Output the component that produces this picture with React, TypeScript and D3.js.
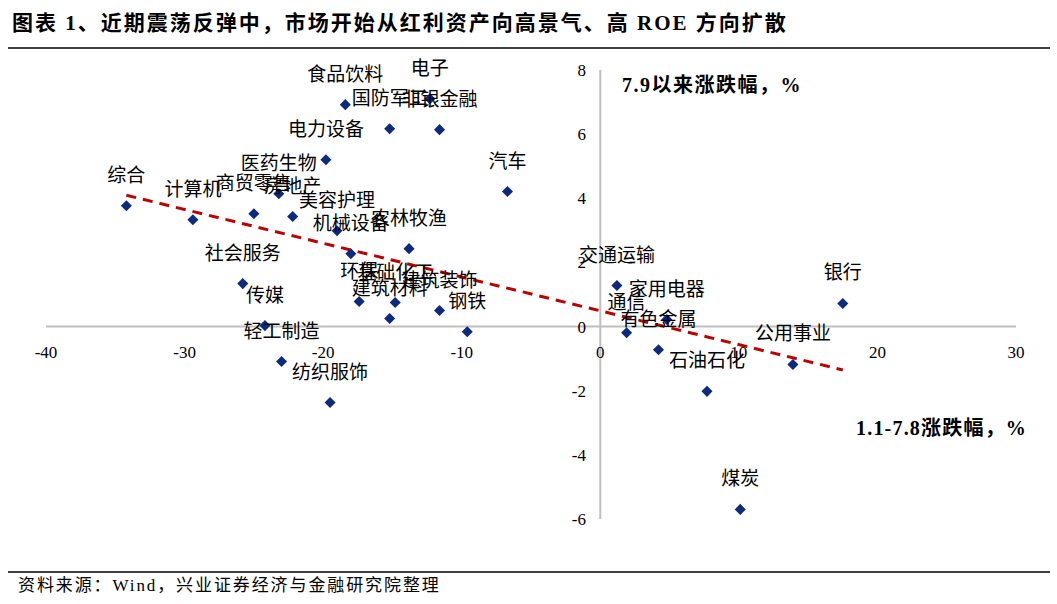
import React, { useEffect, useRef } from "react";
import * as d3 from "d3";

const industries = [
  "综合", "计算机", "商贸零售", "房地产", "医药生物", "美容护理", "机械设备", "农林牧渔",
  "电力设备", "食品饮料", "国防军工", "电子", "非银金融", "汽车", "社会服务", "传媒",
  "轻工制造", "纺织服饰", "环保", "基础化工", "建筑材料", "建筑装饰", "钢铁", "交通运输",
  "家用电器", "通信", "有色金属", "石油石化", "公用事业", "银行", "煤炭",
];
// 1.1-7.8 涨跌幅 (%)
const chgBefore = [
  -34.2, -29.4, -25.0, -22.2, -23.2, -19.0, -18.0, -13.8,
  -19.8, -18.4, -15.2, -12.3, -11.6, -6.7, -25.8, -24.2,
  -23.0, -19.5, -17.4, -14.8, -15.2, -11.6, -9.6, 1.2,
  4.8, 1.9, 4.2, 7.7, 13.9, 17.5, 10.1,
];
// 7.9 以来涨跌幅 (%)
const chgSince = [
  3.77, 3.33, 3.52, 3.43, 4.14, 2.99, 2.27, 2.43,
  5.2, 6.92, 6.17, 7.1, 6.14, 4.21, 1.34, 0.03,
  -1.09, -2.37, 0.78, 0.75, 0.25, 0.5, -0.16, 1.28,
  0.22, -0.19, -0.72, -2.02, -1.18, 0.72, -5.7,
];
const xTicks = [-40, -30, -20, -10, 0, 10, 20, 30];
const yTicks = [-6, -4, -2, 0, 2, 4, 6, 8];

const W = 1057;
const H = 604;
const serif = "'Liberation Serif', 'Noto Sans CJK SC', serif";

const App: React.FC = () => {
  const svgRef = useRef<SVGSVGElement>(null);

  useEffect(() => {
    if (!svgRef.current) return;
    const svg = d3.select(svgRef.current);
    svg.selectAll("*").remove();

    const x = d3.scaleLinear().domain([-40, 30]).range([46, 1016]);
    const y = d3.scaleLinear().domain([-6, 8]).range([519, 70]);

    // title and frame lines
    svg
      .append("text")
      .attr("x", 12)
      .attr("y", 30)
      .attr("font-family", serif)
      .attr("font-weight", "bold")
      .attr("font-size", 21)
      .attr("letter-spacing", 2)
      .text("图表 1、近期震荡反弹中，市场开始从红利资产向高景气、高 ROE 方向扩散");
    svg.append("line").attr("x1", 8).attr("x2", 1050).attr("y1", 48).attr("y2", 48)
      .attr("stroke", "#000").attr("stroke-width", 1.5);
    svg.append("line").attr("x1", 8).attr("x2", 1050).attr("y1", 572).attr("y2", 572)
      .attr("stroke", "#000").attr("stroke-width", 1.5);
    svg
      .append("text")
      .attr("x", 18)
      .attr("y", 591)
      .attr("font-family", serif)
      .attr("font-size", 17)
      .attr("letter-spacing", 1.9)
      .text("资料来源：Wind，兴业证券经济与金融研究院整理");

    // axes through zero
    svg.append("line").attr("x1", x(-40)).attr("x2", x(30)).attr("y1", y(0)).attr("y2", y(0))
      .attr("stroke", "#bfbfbf").attr("stroke-width", 2);
    svg.append("line").attr("x1", x(0)).attr("x2", x(0)).attr("y1", y(8)).attr("y2", y(-6))
      .attr("stroke", "#bfbfbf").attr("stroke-width", 2);

    svg
      .selectAll(".xt")
      .data(xTicks)
      .enter()
      .append("text")
      .attr("x", (d) => x(d))
      .attr("y", y(0) + 31)
      .attr("text-anchor", "middle")
      .attr("font-family", serif)
      .attr("font-size", 17)
      .text((d) => d);

    svg
      .selectAll(".yt")
      .data(yTicks)
      .enter()
      .append("text")
      .attr("x", 586)
      .attr("y", (d) => y(d) + 6)
      .attr("text-anchor", "end")
      .attr("font-family", serif)
      .attr("font-size", 17)
      .text((d) => d);

    // axis titles
    svg.append("text").attr("x", 622).attr("y", 92)
      .attr("font-family", serif).attr("font-weight", "bold").attr("font-size", 20)
      .attr("letter-spacing", 1.5)
      .text("7.9以来涨跌幅，%");
    svg.append("text").attr("x", 856).attr("y", 435)
      .attr("font-family", serif).attr("font-weight", "bold").attr("font-size", 20)
      .attr("letter-spacing", 1.2)
      .text("1.1-7.8涨跌幅，%");

    // linear trend line (least squares)
    const pts = chgBefore.map((v, i) => [v, chgSince[i]] as [number, number]);
    const mx = d3.mean(pts, (p) => p[0])!;
    const my = d3.mean(pts, (p) => p[1])!;
    const slope =
      d3.sum(pts, (p) => (p[0] - mx) * (p[1] - my)) / d3.sum(pts, (p) => (p[0] - mx) ** 2);
    const icpt = my - slope * mx;
    const [x0, x1] = d3.extent(chgBefore) as [number, number];
    svg
      .append("line")
      .attr("x1", x(x0))
      .attr("y1", y(icpt + slope * x0))
      .attr("x2", x(x1))
      .attr("y2", y(icpt + slope * x1))
      .attr("stroke", "#c00000")
      .attr("stroke-width", 3)
      .attr("stroke-dasharray", "10,7");

    const sym = d3.symbol().type(d3.symbolDiamond2).size(78);
    svg
      .selectAll(".pt")
      .data(pts)
      .enter()
      .append("path")
      .attr("d", sym as any)
      .attr("transform", (d) => `translate(${x(d[0])},${y(d[1])})`)
      .attr("fill", "#0d2a7f");

    svg
      .selectAll(".lbl")
      .data(pts)
      .enter()
      .append("text")
      .attr("x", (d) => x(d[0]))
      .attr("y", (d) => y(d[1]) - 24)
      .attr("text-anchor", "middle")
      .attr("font-family", serif)
      .attr("font-size", 19)
      .text((d, i) => industries[i]);
  }, []);

  return (
    <svg
      ref={svgRef}
      width={W}
      height={H}
      style={{ position: "absolute", left: 0, top: 0, background: "#fff" }}
    />
  );
};

export default App;
